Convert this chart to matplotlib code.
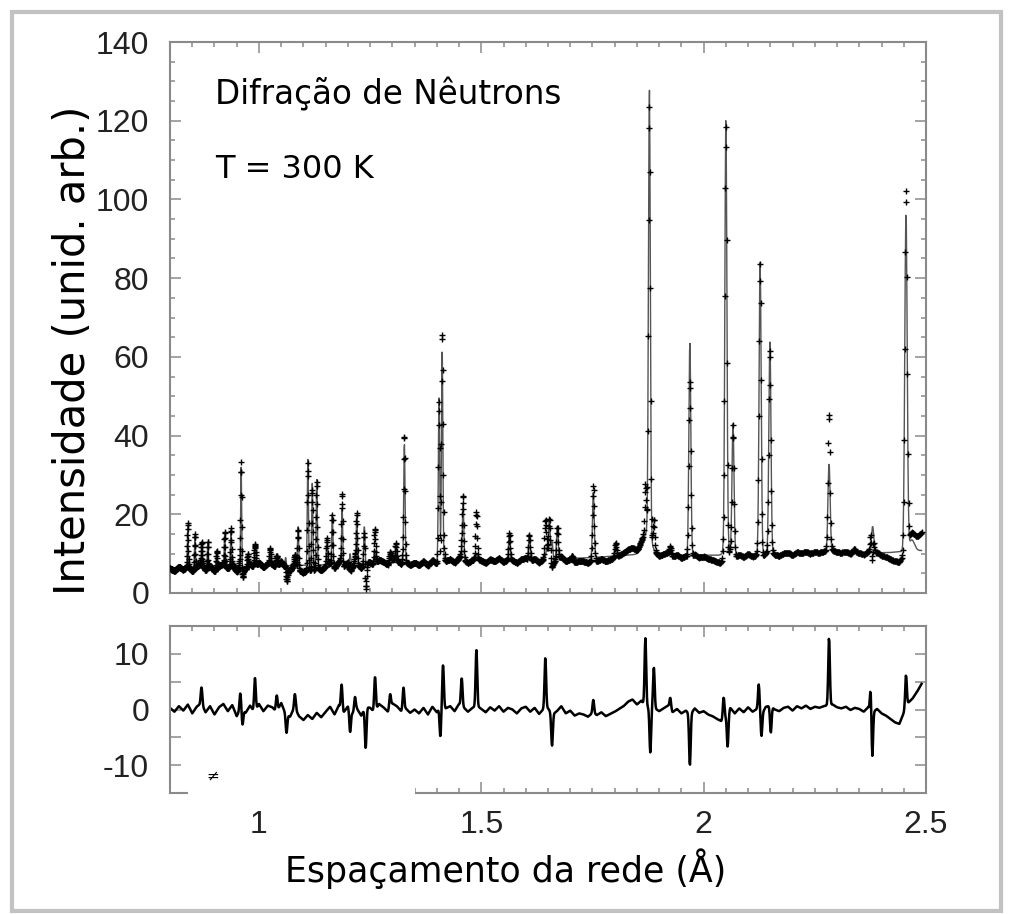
import numpy as np
import matplotlib.pyplot as plt
from matplotlib.patches import Rectangle
from matplotlib.ticker import MultipleLocator, FuncFormatter

# Reflections of the calculated pattern: d-spacing (Å) and peak top (arb. units)
peak_d = [0.840, 0.856, 0.871, 0.885, 0.905, 0.923, 0.937, 0.960, 0.975, 1.025,
          1.060, 1.088, 1.110, 1.120, 1.130, 1.153, 1.165, 1.187, 1.205, 1.220,
          1.237, 1.260, 1.308, 1.327, 1.405, 1.412, 1.459, 1.489, 1.563, 1.608,
          1.647, 1.653, 1.659, 1.671, 1.705, 1.752, 1.802, 1.878, 1.928, 1.969,
          2.050, 2.066, 2.127, 2.149, 2.282, 2.338, 2.380, 2.455]
peak_top = [17, 15, 9, 13, 11, 15, 16, 32, 10, 11,
            9, 17, 34, 28, 29, 14, 20, 21.5, 10, 20,
            17, 11, 12, 38, 50, 62, 23, 10, 15, 15,
            11, 19, 13, 17, 10, 25.6, 13, 128, 10, 64,
            121, 43, 84, 64, 33, 11, 17, 97]

# diffuse humps under a few reflections
hump_d = [1.873, 2.052, 2.468]
hump_top = [15.5, 12.0, 13.5]
hump_w = [0.009, 0.006, 0.006]

# background level
bg_d = [0.80, 0.90, 1.00, 1.20, 1.40, 1.60, 1.75, 1.85, 1.95, 2.10, 2.30, 2.42, 2.47, 2.49]
bg_i = [6.0, 6.4, 6.8, 7.3, 7.9, 8.4, 9.0, 9.8, 9.6, 9.6, 10.0, 10.3, 10.8, 10.8]

# misfit spikes of the difference curve (obs - calc)
spike_d = [0.871, 0.958, 0.963, 0.991, 1.040, 1.062, 1.081, 1.186, 1.205, 1.216,
           1.240, 1.261, 1.295, 1.325, 1.408, 1.414, 1.456, 1.489, 1.644, 1.659,
           1.752, 1.869, 1.880, 1.888, 1.925, 1.969, 2.045, 2.054, 2.124, 2.130,
           2.151, 2.282, 2.376, 2.379, 2.455]
spike_amp = [3.0, 3.0, -2.7, 6.0, 3.0, -3.3, 2.5, 4.5, -4.0, 2.4,
             -7.4, 6.2, 2.4, 4.0, -5.4, 7.4, 5.0, 10.0, 9.2, -5.7,
             2.4, 12.2, -8.0, 7.4, 2.0, -9.2, 3.9, -6.0, 4.8, -3.9,
             -4.8, 12.2, 4.8, -8.9, 6.0]

# residual scatter, one value every 0.01 Å from 0.80 to 2.49
resid = [0.3, -0.4, 0.6, -0.2, 0.9, -0.7, 0.5, 1.1, -0.5, 0.6,
         -0.9, 0.4, 1.0, -0.3, 0.8, -1.2, 0.2, -0.6, 0.7, -0.5,
         1.0, -0.3, 0.7, 0.4, -0.5, 1.2, -0.8, -1.3, 0.4, -1.2,
         -1.9, -1.0, -1.7, -0.6, -1.4, -0.4, 0.5, -0.9, 0.8, -0.6,
         0.6, -0.7, 0.2, -1.1, 0.5, 0.3, -0.5, 1.0, 0.4, -0.4,
         1.1, 0.6, -0.3, 0.2, -0.6, 0.0, -0.7, 0.3, -0.9, 0.5,
         -0.5, 0.8, 0.2, 0.6, -0.3, 1.0, 0.4, -0.4, 0.3, 0.7,
         0.1, -0.5, 0.4, -0.2, 0.6, -0.4, 0.3, 0.0, -0.7, 0.2,
         0.5, -0.4, 0.3, -0.8, 0.1, 0.2, -0.9, -0.3, 0.6, -0.7,
         -0.2, -1.1, -0.7, -0.9, -1.3, -0.6, -1.0, -0.5, -1.2, -0.8,
         -0.4, 0.1, 0.6, 1.4, 1.8, 0.9, 1.6, 0.5, 0.3, 0.2,
         -0.3, 0.2, 0.7, -0.5, 0.1, -0.7, -0.2, -0.9, 0.2, -0.6,
         -0.3, -0.9, -1.2, -1.7, -2.1, -1.3, 0.3, -0.7, 0.2, -0.5,
         0.4, -0.4, 0.1, -0.9, 0.5, 0.7, 0.0, -0.3, 0.3, 0.5,
         -0.2, 0.6, 0.2, 0.7, 0.1, 0.5, 0.3, 0.6, 0.8, 0.9,
         0.4, 0.2, 0.5, -0.1, 0.3, 0.1, -0.4, 0.4, -0.5, 0.1,
         -0.7, -1.1, -1.7, -2.3, -2.6, -0.6, 1.2, 2.0, 3.2, 4.6]
resid_d = 0.80 + 0.01 * np.arange(len(resid))

# TOF-like grid, constant relative step in d
d = np.geomspace(0.80, 2.49, 2300)

base = np.interp(d, bg_d, bg_i)
for p, top, w in zip(hump_d, hump_top, hump_w):
    base += (top - np.interp(p, bg_d, bg_i)) * np.exp(-0.5 * ((d - p) / w) ** 2)

calc = base.copy()
for p, top in zip(peak_d, peak_top):
    sig = 0.0011 * p
    calc += (top - np.interp(p, d, base)) * np.exp(-0.5 * ((d - p) / sig) ** 2)

diff = np.interp(d, resid_d, resid)
for p, a in zip(spike_d, spike_amp):
    diff += a * np.exp(-0.5 * ((d - p) / 0.0018) ** 2)
obs = calc + diff

W, H = 1011, 914
fig = plt.figure(figsize=(W / 100, H / 100), dpi=100)


def fx(px):
    return px / W


def fy(py):
    return 1 - py / H


ax = fig.add_axes([fx(170), fy(593), (926 - 170) / W, (593 - 42) / H])
axd = fig.add_axes([fx(170), fy(793), (926 - 170) / W, (793 - 626) / H])

ax.plot(d, calc, color="#555555", lw=1.0, zorder=2)
ax.plot(d, obs, ls="none", marker="+", ms=5, mew=1.0, color="black", zorder=3)
axd.plot(d, diff, color="black", lw=1.8)

ax.set_xlim(0.8, 2.5)
ax.set_ylim(0, 140)
axd.set_xlim(0.8, 2.5)
axd.set_ylim(-15, 15)

tick_font = {"family": "Liberation Sans", "size": 23}
for a in (ax, axd):
    a.xaxis.set_major_locator(MultipleLocator(0.5))
    a.xaxis.set_minor_locator(MultipleLocator(0.05))
    a.tick_params(which="both", direction="in", top=True, right=True,
                  color="#8a8a8a", width=1.1, labelcolor="#222222")
    a.tick_params(which="major", length=8)
    a.tick_params(which="minor", length=3.8)
    a.tick_params(axis="y", pad=15)
    a.tick_params(axis="x", pad=12)
    for s in a.spines.values():
        s.set_color("#8a8a8a")
        s.set_linewidth(1.5)

ax.yaxis.set_major_locator(MultipleLocator(20))
ax.yaxis.set_minor_locator(MultipleLocator(5))
ax.set_xticklabels([])
axd.yaxis.set_major_locator(MultipleLocator(5))
axd.yaxis.set_major_formatter(FuncFormatter(lambda v, _: f"{v:.0f}" if v % 10 == 0 else ""))
axd.xaxis.set_major_formatter(FuncFormatter(lambda v, _: f"{v:g}"))

for a in (ax, axd):
    for lab in a.get_xticklabels() + a.get_yticklabels():
        lab.set_fontfamily(tick_font["family"])
        lab.set_fontsize(tick_font["size"])

lbl = dict(family="DejaVu Sans", color="black")
fig.text(fx(215), fy(104), "Difração de Nêutrons", fontsize=23.5, va="baseline", **lbl)
fig.text(fx(215), fy(178), "T = 300 K", fontsize=23, va="baseline", **lbl)
fig.text(fx(73), fy(350), "Intensidade (unid. arb.)", fontsize=30, rotation=90,
         ha="center", va="center", **lbl)
fig.text(fx(506), fy(882), "Espaçamento da rede (Å)", fontsize=25,
         ha="center", va="baseline", **lbl)

# blank strip over the lower-left axis edge and the small mark inside it
fig.add_artist(Rectangle((fx(188), fy(798)), (415 - 188) / W, (798 - 781) / H,
                         transform=fig.transFigure, fc="white", ec="none", zorder=5))
fig.text(fx(213), fy(776), "≠", fontsize=11, ha="center", va="center", family="DejaVu Sans")

# frame
fig.add_artist(Rectangle((fx(11.5), fy(911)), (1001 - 11.5) / W, (911 - 11.5) / H,
                         transform=fig.transFigure, fill=False, ec="#c2c2c2", lw=3))

fig.savefig("out.png", dpi=100)
